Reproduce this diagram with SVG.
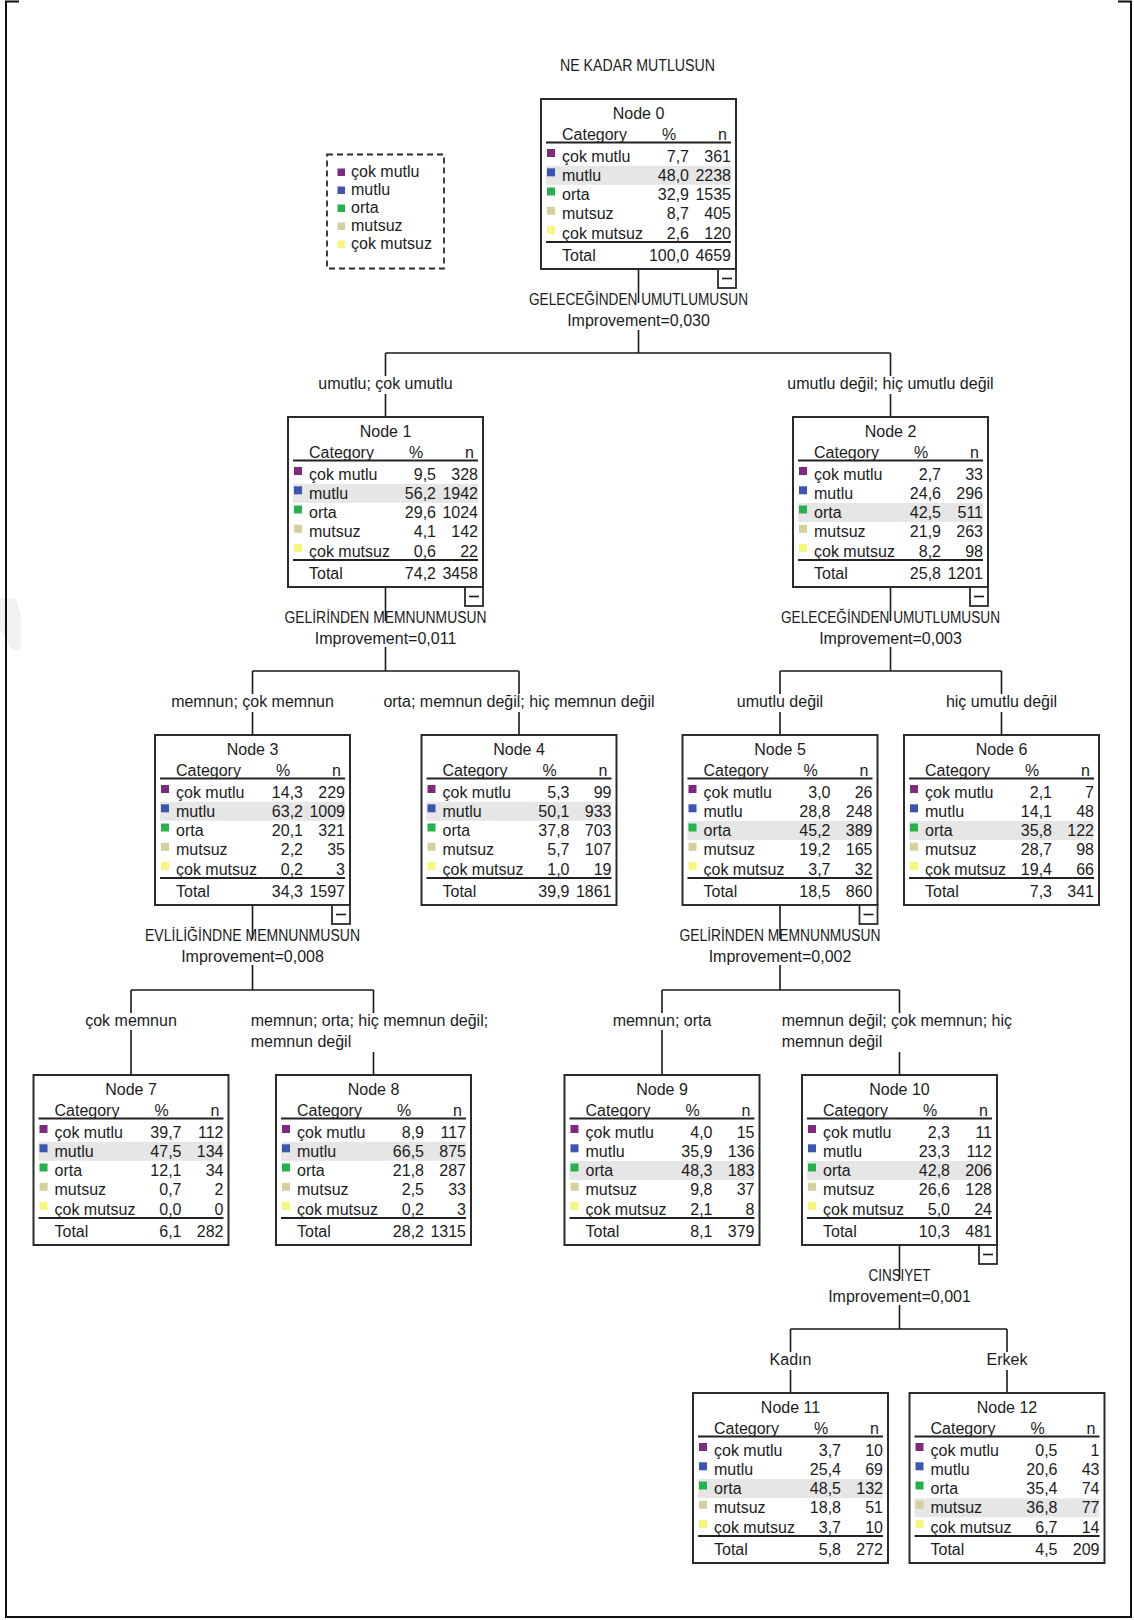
<svg xmlns="http://www.w3.org/2000/svg" xmlns:xlink="http://www.w3.org/1999/xlink" width="1134" height="1620" viewBox="0 0 1134 1620">
  <style>
    .t { font-family: "Liberation Sans", Arial, sans-serif; font-size: 16px; fill: #1c1c1c; }
    .m { text-anchor: middle; }
    .e { text-anchor: end; }
    .box { fill: #ffffff; stroke: #2b2b2b; stroke-width: 2; }
    .hl { fill: #e6e6e6; }
    .rule { stroke: #222222; stroke-width: 2; }
    .ln { stroke: #1a1a1a; stroke-width: 1.6; fill: none; }
    .frame { stroke: #111111; stroke-width: 2; fill: none; }
    .legend { fill: none; stroke: #2b2b2b; stroke-width: 1.8; stroke-dasharray: 6 4; }
    .c1 { fill: #7e2a80; }
    .c2 { fill: #3b55b3; }
    .c3 { fill: #24b24a; }
    .c4 { fill: #d6d09c; }
    .c5 { fill: #f8f57c; }
  </style>
  <defs>
    <!-- shared table skeleton of every node: header, rules, colour keys, category names -->
    <g id="tbl">
      <text class="t" x="21" y="41">Category</text>
      <text class="t m" x="128" y="41">%</text>
      <text class="t e" x="186" y="41">n</text>
      <line class="rule" x1="5" y1="43.5" x2="190" y2="43.5"/>
      <rect class="c1" x="6" y="50" width="8" height="8"/>
      <rect class="c2" x="6" y="69.3" width="8" height="8"/>
      <rect class="c3" x="6" y="88.5" width="8" height="8"/>
      <rect class="c4" x="6" y="107.8" width="8" height="8"/>
      <rect class="c5" x="6" y="127" width="8" height="8"/>
      <text class="t" x="21" y="62.5">çok mutlu</text>
      <text class="t" x="21" y="81.8">mutlu</text>
      <text class="t" x="21" y="101">orta</text>
      <text class="t" x="21" y="120.3">mutsuz</text>
      <text class="t" x="21" y="139.5">çok mutsuz</text>
      <line class="rule" x1="5" y1="143" x2="190" y2="143"/>
      <text class="t" x="21" y="162.3">Total</text>
    </g>
    <!-- collapse toggle under an expanded node -->
    <g id="minus">
      <rect x="0" y="0" width="18" height="19" fill="#ffffff" stroke="#2b2b2b" stroke-width="1.8"/>
      <line x1="4" y1="9.5" x2="14" y2="9.5" stroke="#1a1a1a" stroke-width="1.6"/>
    </g>
  </defs>

  <rect width="1134" height="1620" fill="#ffffff"/>
  <polygon points="0,598 16,598 21,616 21,650 12,650 0,630" fill="#f1f1f1"/>
  <path class="frame" d="M 19 1.5 H 6 V 1617 H 1131 V 1.5 H 1118"/>

  <text class="t m" x="637.5" y="71" textLength="155" lengthAdjust="spacingAndGlyphs">NE KADAR MUTLUSUN</text>

  <!-- legend -->
  <g id="legend">
    <rect class="legend" x="327" y="154.5" width="117" height="114"/>
    <rect class="c1" x="337.5" y="168.5" width="7.5" height="7.5"/>
    <rect class="c2" x="337.5" y="186.5" width="7.5" height="7.5"/>
    <rect class="c3" x="337.5" y="204.5" width="7.5" height="7.5"/>
    <rect class="c4" x="337.5" y="222.5" width="7.5" height="7.5"/>
    <rect class="c5" x="337.5" y="240.5" width="7.5" height="7.5"/>
    <text class="t" x="351" y="177">çok mutlu</text>
    <text class="t" x="351" y="195">mutlu</text>
    <text class="t" x="351" y="213">orta</text>
    <text class="t" x="351" y="231">mutsuz</text>
    <text class="t" x="351" y="249">çok mutsuz</text>
  </g>

  <!-- connectors -->
  <g id="connectors">
    <path class="ln" d="M638.5 269 V303 M638.5 330 V353 M385.5 353 H890.5 M385.5 353 V376 M385.5 394 V417 M890.5 353 V376 M890.5 394 V417"/>
    <path class="ln" d="M385.5 587 V621 M385.5 647 V671 M252.5 671 H519 M252.5 671 V694 M252.5 712 V735 M519 671 V694 M519 712 V735"/>
    <path class="ln" d="M890.5 587 V621 M890.5 647 V671 M780 671 H1001.5 M780 671 V694 M780 712 V735 M1001.5 671 V694 M1001.5 712 V735"/>
    <path class="ln" d="M252.5 905 V939 M252.5 965 V990 M131 990 H373.5 M131 990 V1013 M131 1030 V1075 M373.5 990 V1013 M373.5 1052 V1075"/>
    <path class="ln" d="M780 905 V939 M780 965 V990 M662 990 H899.5 M662 990 V1013 M662 1030 V1075 M899.5 990 V1013 M899.5 1052 V1075"/>
    <path class="ln" d="M899.5 1245 V1279 M899.5 1305 V1329 M790.5 1329 H1007 M790.5 1329 V1352 M790.5 1370 V1393 M1007 1329 V1352 M1007 1370 V1393"/>
  </g>

  <!-- split variables -->
  <g id="splits">
    <text class="t m" x="638.5" y="305" textLength="219" lengthAdjust="spacingAndGlyphs">GELECEĞİNDEN UMUTLUMUSUN</text>
    <text class="t m" x="638.5" y="326">Improvement=0,030</text>
    <text class="t m" x="385.5" y="623" textLength="202" lengthAdjust="spacingAndGlyphs">GELİRİNDEN MEMNUNMUSUN</text>
    <text class="t m" x="385.5" y="644">Improvement=0,011</text>
    <text class="t m" x="890.5" y="623" textLength="219" lengthAdjust="spacingAndGlyphs">GELECEĞİNDEN UMUTLUMUSUN</text>
    <text class="t m" x="890.5" y="644">Improvement=0,003</text>
    <text class="t m" x="252.5" y="941" textLength="215" lengthAdjust="spacingAndGlyphs">EVLİLİĞİNDNE MEMNUNMUSUN</text>
    <text class="t m" x="252.5" y="962">Improvement=0,008</text>
    <text class="t m" x="780" y="941" textLength="201" lengthAdjust="spacingAndGlyphs">GELİRİNDEN MEMNUNMUSUN</text>
    <text class="t m" x="780" y="962">Improvement=0,002</text>
    <text class="t m" x="899.5" y="1281" textLength="62" lengthAdjust="spacingAndGlyphs">CINSIYET</text>
    <text class="t m" x="899.5" y="1302">Improvement=0,001</text>
  </g>

  <!-- branch categories -->
  <g id="branches">
    <text class="t m" x="385.5" y="389">umutlu; çok umutlu</text>
    <text class="t m" x="890.5" y="389">umutlu değil; hiç umutlu değil</text>
    <text class="t m" x="252.5" y="707">memnun; çok memnun</text>
    <text class="t m" x="519" y="707">orta; memnun değil; hiç memnun değil</text>
    <text class="t m" x="780" y="707">umutlu değil</text>
    <text class="t m" x="1001.5" y="707">hiç umutlu değil</text>
    <text class="t m" x="131" y="1026">çok memnun</text>
    <text class="t" x="250.7" y="1026">memnun; orta; hiç memnun değil;</text>
    <text class="t" x="250.7" y="1047">memnun değil</text>
    <text class="t m" x="662" y="1026">memnun; orta</text>
    <text class="t" x="781.7" y="1026">memnun değil; çok memnun; hiç</text>
    <text class="t" x="781.7" y="1047">memnun değil</text>
    <text class="t m" x="790.5" y="1365">Kadın</text>
    <text class="t m" x="1007" y="1365">Erkek</text>
  </g>

  <g id="node-0" transform="translate(541,99)">
    <rect class="box" width="195" height="170"/>
    <rect class="hl" x="5" y="66.8" width="185" height="19"/>
    <use href="#tbl" xlink:href="#tbl"/>
    <text class="t m" x="97.5" y="20">Node 0</text>
    <text class="t e"><tspan x="148" y="62.5">7,7</tspan><tspan x="148" y="81.8">48,0</tspan><tspan x="148" y="101">32,9</tspan><tspan x="148" y="120.3">8,7</tspan><tspan x="148" y="139.5">2,6</tspan><tspan x="148" y="162.3">100,0</tspan></text>
    <text class="t e"><tspan x="190" y="62.5">361</tspan><tspan x="190" y="81.8">2238</tspan><tspan x="190" y="101">1535</tspan><tspan x="190" y="120.3">405</tspan><tspan x="190" y="139.5">120</tspan><tspan x="190" y="162.3">4659</tspan></text>
    <use href="#minus" xlink:href="#minus" x="177" y="170"/>
  </g>

  <g id="node-1" transform="translate(288,417)">
    <rect class="box" width="195" height="170"/>
    <rect class="hl" x="5" y="66.8" width="185" height="19"/>
    <use href="#tbl" xlink:href="#tbl"/>
    <text class="t m" x="97.5" y="20">Node 1</text>
    <text class="t e"><tspan x="148" y="62.5">9,5</tspan><tspan x="148" y="81.8">56,2</tspan><tspan x="148" y="101">29,6</tspan><tspan x="148" y="120.3">4,1</tspan><tspan x="148" y="139.5">0,6</tspan><tspan x="148" y="162.3">74,2</tspan></text>
    <text class="t e"><tspan x="190" y="62.5">328</tspan><tspan x="190" y="81.8">1942</tspan><tspan x="190" y="101">1024</tspan><tspan x="190" y="120.3">142</tspan><tspan x="190" y="139.5">22</tspan><tspan x="190" y="162.3">3458</tspan></text>
    <use href="#minus" xlink:href="#minus" x="177" y="170"/>
  </g>

  <g id="node-2" transform="translate(793,417)">
    <rect class="box" width="195" height="170"/>
    <rect class="hl" x="5" y="86" width="185" height="19"/>
    <use href="#tbl" xlink:href="#tbl"/>
    <text class="t m" x="97.5" y="20">Node 2</text>
    <text class="t e"><tspan x="148" y="62.5">2,7</tspan><tspan x="148" y="81.8">24,6</tspan><tspan x="148" y="101">42,5</tspan><tspan x="148" y="120.3">21,9</tspan><tspan x="148" y="139.5">8,2</tspan><tspan x="148" y="162.3">25,8</tspan></text>
    <text class="t e"><tspan x="190" y="62.5">33</tspan><tspan x="190" y="81.8">296</tspan><tspan x="190" y="101">511</tspan><tspan x="190" y="120.3">263</tspan><tspan x="190" y="139.5">98</tspan><tspan x="190" y="162.3">1201</tspan></text>
    <use href="#minus" xlink:href="#minus" x="177" y="170"/>
  </g>

  <g id="node-3" transform="translate(155,735)">
    <rect class="box" width="195" height="170"/>
    <rect class="hl" x="5" y="66.8" width="185" height="19"/>
    <use href="#tbl" xlink:href="#tbl"/>
    <text class="t m" x="97.5" y="20">Node 3</text>
    <text class="t e"><tspan x="148" y="62.5">14,3</tspan><tspan x="148" y="81.8">63,2</tspan><tspan x="148" y="101">20,1</tspan><tspan x="148" y="120.3">2,2</tspan><tspan x="148" y="139.5">0,2</tspan><tspan x="148" y="162.3">34,3</tspan></text>
    <text class="t e"><tspan x="190" y="62.5">229</tspan><tspan x="190" y="81.8">1009</tspan><tspan x="190" y="101">321</tspan><tspan x="190" y="120.3">35</tspan><tspan x="190" y="139.5">3</tspan><tspan x="190" y="162.3">1597</tspan></text>
    <use href="#minus" xlink:href="#minus" x="177" y="170"/>
  </g>

  <g id="node-4" transform="translate(421.5,735)">
    <rect class="box" width="195" height="170"/>
    <rect class="hl" x="5" y="66.8" width="185" height="19"/>
    <use href="#tbl" xlink:href="#tbl"/>
    <text class="t m" x="97.5" y="20">Node 4</text>
    <text class="t e"><tspan x="148" y="62.5">5,3</tspan><tspan x="148" y="81.8">50,1</tspan><tspan x="148" y="101">37,8</tspan><tspan x="148" y="120.3">5,7</tspan><tspan x="148" y="139.5">1,0</tspan><tspan x="148" y="162.3">39,9</tspan></text>
    <text class="t e"><tspan x="190" y="62.5">99</tspan><tspan x="190" y="81.8">933</tspan><tspan x="190" y="101">703</tspan><tspan x="190" y="120.3">107</tspan><tspan x="190" y="139.5">19</tspan><tspan x="190" y="162.3">1861</tspan></text>
  </g>

  <g id="node-5" transform="translate(682.5,735)">
    <rect class="box" width="195" height="170"/>
    <rect class="hl" x="5" y="86" width="185" height="19"/>
    <use href="#tbl" xlink:href="#tbl"/>
    <text class="t m" x="97.5" y="20">Node 5</text>
    <text class="t e"><tspan x="148" y="62.5">3,0</tspan><tspan x="148" y="81.8">28,8</tspan><tspan x="148" y="101">45,2</tspan><tspan x="148" y="120.3">19,2</tspan><tspan x="148" y="139.5">3,7</tspan><tspan x="148" y="162.3">18,5</tspan></text>
    <text class="t e"><tspan x="190" y="62.5">26</tspan><tspan x="190" y="81.8">248</tspan><tspan x="190" y="101">389</tspan><tspan x="190" y="120.3">165</tspan><tspan x="190" y="139.5">32</tspan><tspan x="190" y="162.3">860</tspan></text>
    <use href="#minus" xlink:href="#minus" x="177" y="170"/>
  </g>

  <g id="node-6" transform="translate(904,735)">
    <rect class="box" width="195" height="170"/>
    <rect class="hl" x="5" y="86" width="185" height="19"/>
    <use href="#tbl" xlink:href="#tbl"/>
    <text class="t m" x="97.5" y="20">Node 6</text>
    <text class="t e"><tspan x="148" y="62.5">2,1</tspan><tspan x="148" y="81.8">14,1</tspan><tspan x="148" y="101">35,8</tspan><tspan x="148" y="120.3">28,7</tspan><tspan x="148" y="139.5">19,4</tspan><tspan x="148" y="162.3">7,3</tspan></text>
    <text class="t e"><tspan x="190" y="62.5">7</tspan><tspan x="190" y="81.8">48</tspan><tspan x="190" y="101">122</tspan><tspan x="190" y="120.3">98</tspan><tspan x="190" y="139.5">66</tspan><tspan x="190" y="162.3">341</tspan></text>
  </g>

  <g id="node-7" transform="translate(33.5,1075)">
    <rect class="box" width="195" height="170"/>
    <rect class="hl" x="5" y="66.8" width="185" height="19"/>
    <use href="#tbl" xlink:href="#tbl"/>
    <text class="t m" x="97.5" y="20">Node 7</text>
    <text class="t e"><tspan x="148" y="62.5">39,7</tspan><tspan x="148" y="81.8">47,5</tspan><tspan x="148" y="101">12,1</tspan><tspan x="148" y="120.3">0,7</tspan><tspan x="148" y="139.5">0,0</tspan><tspan x="148" y="162.3">6,1</tspan></text>
    <text class="t e"><tspan x="190" y="62.5">112</tspan><tspan x="190" y="81.8">134</tspan><tspan x="190" y="101">34</tspan><tspan x="190" y="120.3">2</tspan><tspan x="190" y="139.5">0</tspan><tspan x="190" y="162.3">282</tspan></text>
  </g>

  <g id="node-8" transform="translate(276,1075)">
    <rect class="box" width="195" height="170"/>
    <rect class="hl" x="5" y="66.8" width="185" height="19"/>
    <use href="#tbl" xlink:href="#tbl"/>
    <text class="t m" x="97.5" y="20">Node 8</text>
    <text class="t e"><tspan x="148" y="62.5">8,9</tspan><tspan x="148" y="81.8">66,5</tspan><tspan x="148" y="101">21,8</tspan><tspan x="148" y="120.3">2,5</tspan><tspan x="148" y="139.5">0,2</tspan><tspan x="148" y="162.3">28,2</tspan></text>
    <text class="t e"><tspan x="190" y="62.5">117</tspan><tspan x="190" y="81.8">875</tspan><tspan x="190" y="101">287</tspan><tspan x="190" y="120.3">33</tspan><tspan x="190" y="139.5">3</tspan><tspan x="190" y="162.3">1315</tspan></text>
  </g>

  <g id="node-9" transform="translate(564.5,1075)">
    <rect class="box" width="195" height="170"/>
    <rect class="hl" x="5" y="86" width="185" height="19"/>
    <use href="#tbl" xlink:href="#tbl"/>
    <text class="t m" x="97.5" y="20">Node 9</text>
    <text class="t e"><tspan x="148" y="62.5">4,0</tspan><tspan x="148" y="81.8">35,9</tspan><tspan x="148" y="101">48,3</tspan><tspan x="148" y="120.3">9,8</tspan><tspan x="148" y="139.5">2,1</tspan><tspan x="148" y="162.3">8,1</tspan></text>
    <text class="t e"><tspan x="190" y="62.5">15</tspan><tspan x="190" y="81.8">136</tspan><tspan x="190" y="101">183</tspan><tspan x="190" y="120.3">37</tspan><tspan x="190" y="139.5">8</tspan><tspan x="190" y="162.3">379</tspan></text>
  </g>

  <g id="node-10" transform="translate(802,1075)">
    <rect class="box" width="195" height="170"/>
    <rect class="hl" x="5" y="86" width="185" height="19"/>
    <use href="#tbl" xlink:href="#tbl"/>
    <text class="t m" x="97.5" y="20">Node 10</text>
    <text class="t e"><tspan x="148" y="62.5">2,3</tspan><tspan x="148" y="81.8">23,3</tspan><tspan x="148" y="101">42,8</tspan><tspan x="148" y="120.3">26,6</tspan><tspan x="148" y="139.5">5,0</tspan><tspan x="148" y="162.3">10,3</tspan></text>
    <text class="t e"><tspan x="190" y="62.5">11</tspan><tspan x="190" y="81.8">112</tspan><tspan x="190" y="101">206</tspan><tspan x="190" y="120.3">128</tspan><tspan x="190" y="139.5">24</tspan><tspan x="190" y="162.3">481</tspan></text>
    <use href="#minus" xlink:href="#minus" x="177" y="170"/>
  </g>

  <g id="node-11" transform="translate(693,1393)">
    <rect class="box" width="195" height="170"/>
    <rect class="hl" x="5" y="86" width="185" height="19"/>
    <use href="#tbl" xlink:href="#tbl"/>
    <text class="t m" x="97.5" y="20">Node 11</text>
    <text class="t e"><tspan x="148" y="62.5">3,7</tspan><tspan x="148" y="81.8">25,4</tspan><tspan x="148" y="101">48,5</tspan><tspan x="148" y="120.3">18,8</tspan><tspan x="148" y="139.5">3,7</tspan><tspan x="148" y="162.3">5,8</tspan></text>
    <text class="t e"><tspan x="190" y="62.5">10</tspan><tspan x="190" y="81.8">69</tspan><tspan x="190" y="101">132</tspan><tspan x="190" y="120.3">51</tspan><tspan x="190" y="139.5">10</tspan><tspan x="190" y="162.3">272</tspan></text>
  </g>

  <g id="node-12" transform="translate(909.5,1393)">
    <rect class="box" width="195" height="170"/>
    <rect class="hl" x="5" y="105.3" width="185" height="19"/>
    <use href="#tbl" xlink:href="#tbl"/>
    <text class="t m" x="97.5" y="20">Node 12</text>
    <text class="t e"><tspan x="148" y="62.5">0,5</tspan><tspan x="148" y="81.8">20,6</tspan><tspan x="148" y="101">35,4</tspan><tspan x="148" y="120.3">36,8</tspan><tspan x="148" y="139.5">6,7</tspan><tspan x="148" y="162.3">4,5</tspan></text>
    <text class="t e"><tspan x="190" y="62.5">1</tspan><tspan x="190" y="81.8">43</tspan><tspan x="190" y="101">74</tspan><tspan x="190" y="120.3">77</tspan><tspan x="190" y="139.5">14</tspan><tspan x="190" y="162.3">209</tspan></text>
  </g>
</svg>
